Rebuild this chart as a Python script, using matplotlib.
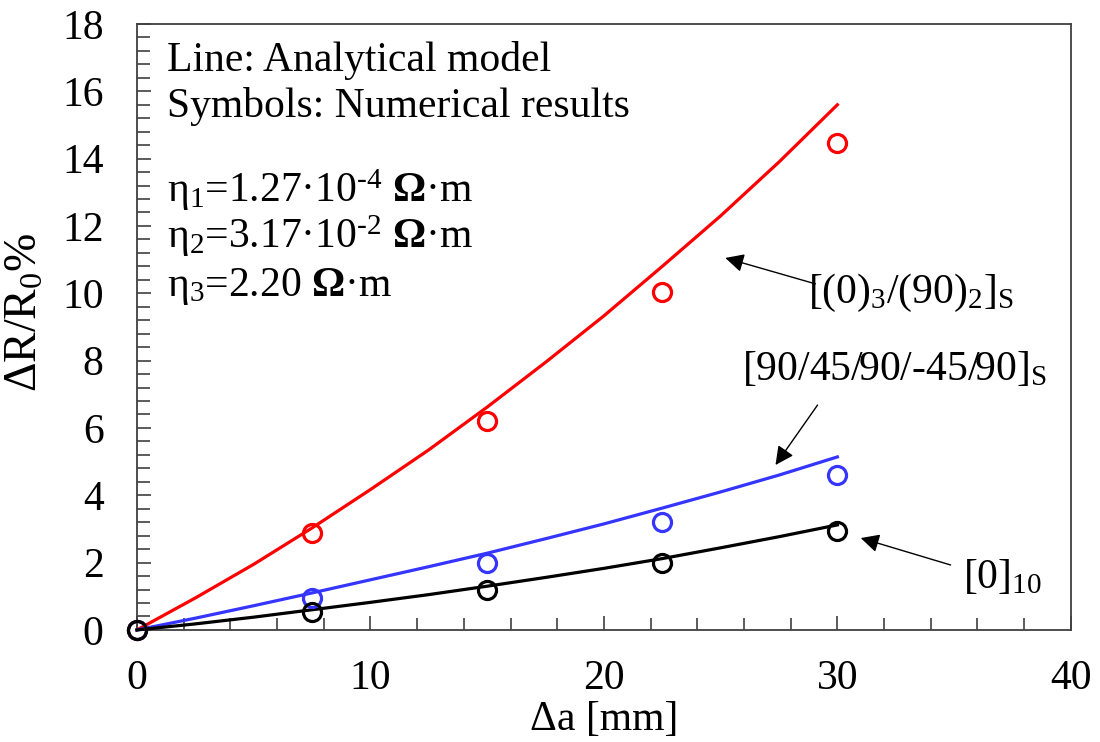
import numpy as np
import matplotlib
matplotlib.use('Agg')
import matplotlib.pyplot as plt
from matplotlib.ticker import MultipleLocator

plt.rcParams['font.family'] = ['Liberation Serif', 'DejaVu Serif']
plt.rcParams['mathtext.fontset'] = 'custom'
plt.rcParams['mathtext.rm'] = 'Liberation Serif'
plt.rcParams['mathtext.it'] = 'Liberation Serif:italic'
plt.rcParams['mathtext.bf'] = 'Liberation Serif:bold'

# numerical results (symbols)
x_pts = [0, 7.5, 15, 22.5, 30]
red_pts = [0, 2.87, 6.2, 10.04, 14.47]
blue_pts = [0, 0.95, 2.0, 3.2, 4.6]
black_pts = [0, 0.54, 1.19, 2.0, 2.93]

# analytical model (lines)
x_line = [0, 2.5, 5, 7.5, 10, 12.5, 15, 17.5, 20, 22.5, 25, 27.5, 30]
red_line = [0, 0.95, 1.95, 3.03, 4.17, 5.35, 6.62, 7.95, 9.33, 10.8, 12.3, 13.9, 15.6]
blue_line = [0, 0.35, 0.72, 1.1, 1.49, 1.88, 2.28, 2.71, 3.15, 3.62, 4.1, 4.6, 5.14]
black_line = [0, 0.18, 0.38, 0.6, 0.82, 1.05, 1.3, 1.56, 1.83, 2.12, 2.44, 2.77, 3.12]

RED = '#FF0000'
BLUE = '#3535FF'
BLACK = '#000000'

fig = plt.figure(figsize=(11, 7.42), dpi=100)
ax = fig.add_axes([0.1245, 0.151, 0.849, 0.8167])

for yl, yp, c in [(red_line, red_pts, RED), (blue_line, blue_pts, BLUE), (black_line, black_pts, BLACK)]:
    ax.plot(x_line, yl, color=c, lw=2.3, zorder=3, clip_on=False)
    ax.plot(x_pts, yp, ls='none', marker='o', ms=13, mfc='none', mec=c, mew=2.3,
            zorder=4, clip_on=False)

ax.set_xlim(0, 40)
ax.set_ylim(0, 18)
ax.xaxis.set_major_locator(MultipleLocator(10))
ax.xaxis.set_minor_locator(MultipleLocator(2))
ax.yaxis.set_major_locator(MultipleLocator(2))
ax.yaxis.set_minor_locator(MultipleLocator(0.4))
ax.tick_params(which='both', direction='in', top=False, right=False,
               color='#404040', width=1.2, labelsize=30)
ax.tick_params(which='major', length=10)
ax.tick_params(which='minor', length=9)
ax.tick_params(axis='x', which='major', pad=21)
ax.tick_params(axis='y', which='major', pad=24)
for s in ax.spines.values():
    s.set_color('#404040')
    s.set_linewidth(1.3)

ax.set_xlabel('Δa [mm]', fontsize=30)
ax.xaxis.set_label_coords(0.5, -0.117)
ax.set_ylabel('ΔR/R$_0$%', fontsize=33)
ax.yaxis.set_label_coords(-0.097, 0.525)

txt = dict(fontsize=30, transform=ax.transAxes, va='center', ha='left')
ax.text(0.032, 0.94, 'Line: Analytical model', **txt)
ax.text(0.032, 0.863, 'Symbols: Numerical results', **txt)
ax.text(0.032, 0.726, 'η$_1$=1.27·10$^{\\text{-4}}$ $\\mathbf{\\Omega}$·m', **txt)
ax.text(0.032, 0.65, 'η$_2$=3.17·10$^{\\text{-2}}$ $\\mathbf{\\Omega}$·m', **txt)
ax.text(0.032, 0.566, 'η$_3$=2.20 $\\mathbf{\\Omega}$·m', **txt)

arrow = dict(arrowstyle='-|>', color='black', lw=1.0, mutation_scale=28,
             shrinkA=0, shrinkB=0)
ax.annotate('', xy=(25.2, 11.05), xytext=(29.06, 10.28), arrowprops=arrow)
ax.annotate('', xy=(27.35, 4.9), xytext=(29.15, 6.68), arrowprops=arrow)
ax.annotate('', xy=(31.0, 2.73), xytext=(34.85, 1.93), arrowprops=arrow)

ax.text(28.76, 10.0, '[(0)$_3$/(90)$_2$]$_\\mathrm{S}$', fontsize=30, va='center', ha='left')
ax.text(25.9, 7.75, '[90/45/90/-45/90]$_\\mathrm{S}$', fontsize=30, va='center', ha='left')
ax.text(35.4, 1.55, '[0]$_{10}$', fontsize=30, va='center', ha='left')

fig.savefig('out.png', dpi=100, facecolor='white')
